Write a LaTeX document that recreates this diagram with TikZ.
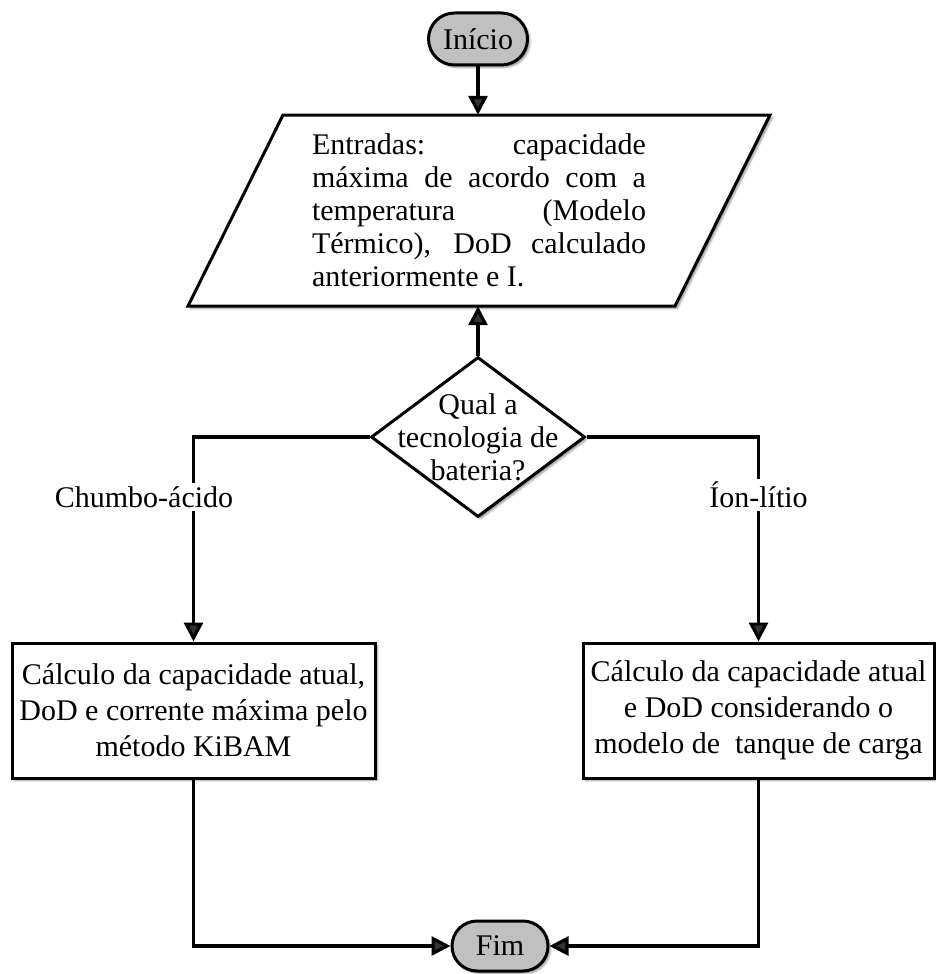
\documentclass[tikz,border=0pt]{standalone}
\usepackage{fontspec}
\setmainfont{Liberation Serif}
\usetikzlibrary{shapes.geometric,shapes.misc,arrows.meta,calc,shadows.blur}
\definecolor{termgray}{RGB}{192,192,192}

\begin{document}
\begin{tikzpicture}[x=1pt,y=-1pt,
  every node/.style={font=\fontsize{30}{33}\selectfont},
  soft/.style={blur shadow={shadow xshift=2.5pt,shadow yshift=-2.5pt,shadow blur steps=5,shadow opacity=40}},
  shapeline/.style={draw=black,line width=3pt},
  terminal/.style={rounded rectangle,shapeline,fill=termgray,inner sep=0pt,soft},
  process/.style={rectangle,shapeline,fill=white,align=center,inner sep=0pt,soft,
    font=\fontsize{30}{36}\selectfont},
  decision/.style={diamond,shapeline,fill=white,inner sep=0pt,soft},
  flow/.style={line width=3.2pt,-{Triangle[length=19pt,width=19pt]}},
  branch/.style={fill=white,inner sep=3pt},
]
\useasboundingbox (0,0) rectangle (936,974);

% start terminal
\node[terminal,minimum width=99pt,minimum height=52pt] (ini) at (478,39) {Início};

% input block: parallelogram outline, then the justified text on top
\coordinate (pc) at (479,210.5);
\draw[shapeline,fill=white,soft]
  ($(pc)+(-291,95.5)$) -- ($(pc)+(-196,-95.5)$) -- ($(pc)+(291,-95.5)$)
  -- ($(pc)+(196,95.5)$) -- cycle;
\node[inner sep=0pt,minimum width=582pt,minimum height=191pt,align=left] (para) at (pc)
  {\makebox[334pt][s]{Entradas: capacidade}\\
   \makebox[334pt][s]{máxima de acordo com a}\\
   \makebox[334pt][s]{temperatura (Modelo}\\
   \makebox[334pt][s]{Térmico), DoD calculado}\\
   anteriormente e I.};

% decision
\node[decision,minimum width=214pt,minimum height=160pt] (dec) at (478,437) {};
\node[align=center,inner sep=0pt] (dectext) at (dec.center) {Qual a\\tecnologia de\\bateria?};

% processing blocks
\node[process,minimum width=363pt,minimum height=135pt] (lbox) at (193.5,710.5)
  {Cálculo da capacidade atual,\\DoD e corrente máxima pelo\\método KiBAM};
\node[process,minimum width=351pt,minimum height=135pt] (rbox) at (758.5,710.5)
  {Cálculo da capacidade atual\\e DoD considerando o\\modelo de\ \ tanque de carga};

% end terminal
\node[terminal,minimum width=96pt,minimum height=50pt] (fim) at (500,946) {Fim};

% connectors
\draw[flow] (ini.south) -- (ini.south |- para.north);
\draw[flow] (dec.north) -- (dec.north |- para.south);
\draw[flow] (dec.west) -| (lbox.north);
\draw[flow] (dec.east) -| (rbox.north);
\draw[flow] (lbox.south) |- (fim.west);
\draw[flow] (rbox.south) |- (fim.east);

% branch labels
\node[branch] (lead) at (144,497) {Chumbo-ácido};
\node[branch] (lith) at (758.5,495) {Íon-lítio};
\end{tikzpicture}
\end{document}
